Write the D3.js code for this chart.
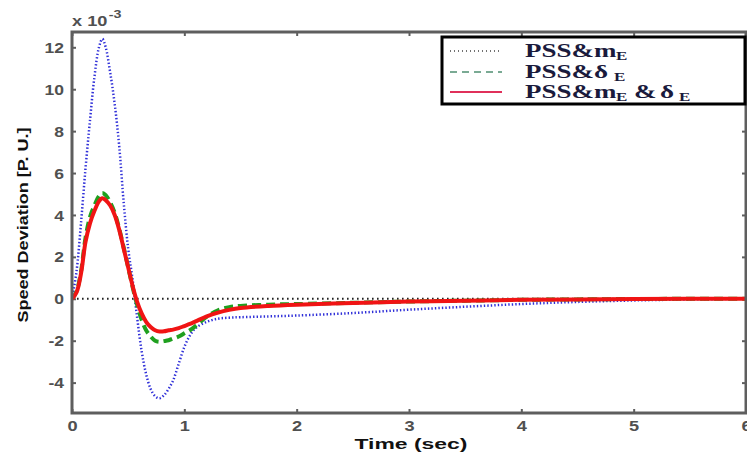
<!DOCTYPE html>
<html>
<head>
<meta charset="utf-8">
<script src="https://cdn.jsdelivr.net/npm/d3@7"></script>
<style>
  html, body { margin: 0; padding: 0; background: #fff; }
  svg { display: block; }
</style>
</head>
<body>
<svg id="chart" width="747" height="459"></svg>
<script>
// Time samples (s)
const time = [0, 0.04, 0.08, 0.12, 0.16, 0.2, 0.24, 0.27, 0.3, 0.34, 0.38, 0.42, 0.46, 0.5,
  0.54, 0.58, 0.62, 0.66, 0.7, 0.74, 0.78, 0.82, 0.86, 0.9, 0.95, 1.0, 1.05, 1.1, 1.2, 1.3,
  1.4, 1.5, 1.75, 2.0, 2.5, 3.0, 3.5, 4.0, 4.5, 5.0, 5.5, 6.0];

// Speed deviation (x 10^-3 p.u.)
const pssM = [0, 1.3, 3.6, 6.2, 8.5, 10.6, 12.0, 12.4, 12.0, 10.8, 9.3, 7.3, 4.6, 2.4,
  0.9, -0.9, -2.5, -3.6, -4.3, -4.65, -4.75, -4.6, -4.3, -3.9, -3.1, -2.3, -1.75, -1.4, -1.1, -0.95,
  -0.9, -0.88, -0.84, -0.8, -0.68, -0.52, -0.38, -0.25, -0.15, -0.08, -0.03, 0];

const pssDelta = [0, 0.35, 1.3, 2.9, 3.9, 4.45, 4.9, 5.05, 4.95, 4.6, 4.1, 3.35, 2.45, 1.5,
  0.55, -0.3, -1.0, -1.5, -1.8, -2.0, -2.05, -2.02, -1.98, -1.9, -1.8, -1.65, -1.5, -1.3, -0.85, -0.55,
  -0.4, -0.34, -0.28, -0.25, -0.19, -0.13, -0.09, -0.05, -0.03, -0.01, 0, 0];

const pssBoth = [0, 0.3, 1.2, 2.7, 3.6, 4.2, 4.65, 4.8, 4.7, 4.45, 4.0, 3.3, 2.4, 1.5,
  0.6, -0.15, -0.7, -1.1, -1.35, -1.5, -1.56, -1.55, -1.5, -1.47, -1.4, -1.3, -1.2, -1.08, -0.84, -0.66,
  -0.53, -0.44, -0.34, -0.28, -0.2, -0.13, -0.09, -0.05, -0.03, -0.01, 0, 0];

const xTicks = [0, 1, 2, 3, 4, 5, 6];
const yTicks = [-4, -2, 0, 2, 4, 6, 8, 10, 12];

const svg = d3.select("#chart");
const L = 72, R = 746, T = 32, B = 413;
const axisGray = "#5e5e5e";
const labelGray = "#505050";

const x = d3.scaleLinear().domain([0, 6]).range([L, R]);
const y = d3.scaleLinear().domain([-5.45, 12.73]).range([B, T]);

// widen text horizontally by factor k
function stretch(sel, k) {
  sel.each(function () {
    const w = this.getComputedTextLength();
    this.setAttribute("textLength", w * k);
    this.setAttribute("lengthAdjust", "spacingAndGlyphs");
  });
}

svg.append("defs").append("clipPath").attr("id", "plot")
  .append("rect").attr("x", L).attr("y", T).attr("width", R - L).attr("height", B - T);

// axes
const tickFont = g => g.selectAll("text")
  .attr("fill", labelGray).attr("font-family", "Liberation Sans, Arial, sans-serif")
  .attr("font-weight", "bold").attr("font-size", 14);

const gx = svg.append("g").attr("transform", `translate(0,${B})`)
  .call(d3.axisBottom(x).tickValues(xTicks).tickFormat(d3.format("d"))
    .tickSizeInner(-4).tickSizeOuter(0).tickPadding(8));
const gxTop = svg.append("g").attr("transform", `translate(0,${T})`)
  .call(d3.axisTop(x).tickValues(xTicks).tickFormat("").tickSizeInner(-4).tickSizeOuter(0));
const gy = svg.append("g").attr("transform", `translate(${L},0)`)
  .call(d3.axisLeft(y).tickValues(yTicks).tickFormat(d3.format("d"))
    .tickSizeInner(-4).tickSizeOuter(0).tickPadding(8));
const gyRight = svg.append("g").attr("transform", `translate(${R},0)`)
  .call(d3.axisRight(y).tickValues(yTicks).tickFormat("").tickSizeInner(-4).tickSizeOuter(0));

[gx, gxTop, gy, gyRight].forEach(g => {
  g.select(".domain").remove();
  g.selectAll("line").attr("stroke", axisGray).attr("stroke-width", 2);
  tickFont(g);
});
gy.selectAll("text").text(d => d < 0 ? "-" + Math.abs(d) : d).attr("dy", "0.36em");
stretch(gx.selectAll("text"), 1.3);
stretch(gy.selectAll("text"), 1.25);

// zero reference line
svg.append("line")
  .attr("x1", x(0)).attr("x2", x(6)).attr("y1", y(0)).attr("y2", y(0))
  .attr("stroke", "#222").attr("stroke-width", 2).attr("stroke-dasharray", "1.6 3.4");

// response curves
const line = d3.line().x((d, i) => x(time[i])).y(d => y(d)).curve(d3.curveCatmullRom);
const plot = svg.append("g").attr("clip-path", "url(#plot)");

plot.append("path").datum(pssM).attr("d", line)
  .attr("fill", "none").attr("stroke", "#2f2fd8").attr("stroke-width", 2.5)
  .attr("stroke-dasharray", "1.4 2.1");
plot.append("path").datum(pssDelta).attr("d", line)
  .attr("fill", "none").attr("stroke", "#1fa01f").attr("stroke-width", 4)
  .attr("stroke-dasharray", "9 5");
plot.append("path").datum(pssBoth).attr("d", line)
  .attr("fill", "none").attr("stroke", "#f01414").attr("stroke-width", 4)
  .attr("stroke-linejoin", "round");

// frame
svg.append("rect").attr("x", L).attr("y", T).attr("width", R - L).attr("height", B - T)
  .attr("fill", "none").attr("stroke", axisGray).attr("stroke-width", 3);

// exponent label
const expG = svg.append("g").attr("transform", `translate(${L},26) scale(1.3,1)`);
const expT = expG.append("text").attr("fill", labelGray)
  .attr("font-family", "Liberation Sans, Arial, sans-serif").attr("font-weight", "bold")
  .attr("font-size", 14);
expT.append("tspan").text("x 10");
expT.append("tspan").attr("dy", -8).attr("dx", 1).attr("font-size", 11).text("-3");

// axis titles
svg.append("text").attr("x", 411).attr("y", 449).attr("text-anchor", "middle")
  .attr("fill", "#111").attr("font-family", "Liberation Sans, Arial, sans-serif")
  .attr("font-weight", "bold").attr("font-size", 15)
  .attr("textLength", 113).attr("lengthAdjust", "spacingAndGlyphs")
  .text("Time (sec)");

svg.append("text").attr("transform", "translate(28,225) rotate(-90)")
  .attr("text-anchor", "middle").attr("fill", "#111")
  .attr("font-family", "Liberation Sans, Arial, sans-serif")
  .attr("font-weight", "bold").attr("font-size", 15)
  .attr("textLength", 195).attr("lengthAdjust", "spacingAndGlyphs")
  .text("Speed Deviation [P. U.]");

// legend
const legend = svg.append("g");
legend.append("rect").attr("x", 442).attr("y", 37).attr("width", 303).attr("height", 67)
  .attr("fill", "#fff").attr("stroke", "#000").attr("stroke-width", 3);

// each entry: list of [text, isSubscript, left x in px]
const legendItems = [
  { parts: [["PSS&m", false, 525], ["E", true, 616]], color: "#444", dash: "1 3", width: 1.5 },
  { parts: [["PSS&δ", false, 525], ["E", true, 614]], color: "#4f8f72", dash: "7 5", width: 1.5 },
  { parts: [["PSS&m", false, 525], ["E", true, 616], ["&", false, 634], ["δ", false, 660], ["E", true, 679]],
    color: "#e0305a", dash: null, width: 2 }
];
const rowY = [51, 72, 92];
const sx = 1.42;
legendItems.forEach((it, i) => {
  legend.append("line").attr("x1", 450).attr("x2", 502).attr("y1", rowY[i]).attr("y2", rowY[i])
    .attr("stroke", it.color).attr("stroke-width", it.width)
    .attr("stroke-dasharray", it.dash);
  it.parts.forEach(([s, sub, px]) => {
    legend.append("text")
      .attr("transform", `translate(${px},${rowY[i] + 6 + (sub ? 3 : 0)}) scale(${sx},1)`)
      .attr("fill", "#1a1a3c")
      .attr("font-family", "Liberation Serif, Times New Roman, serif")
      .attr("font-weight", "bold").attr("font-size", sub ? 12 : 19)
      .text(s);
  });
});
</script>
</body>
</html>
